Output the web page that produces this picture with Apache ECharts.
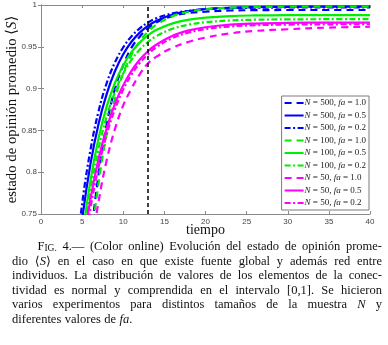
<!DOCTYPE html>
<html>
<head>
<meta charset="utf-8">
<script src="https://cdn.jsdelivr.net/npm/echarts@6/dist/echarts.min.js"></script>
<style>
  html, body { margin: 0; padding: 0; background: #fff; }
  #chart { width: 388px; height: 345px; }
</style>
</head>
<body>
<div id="chart"></div>
<script>
// tiempo (x) and <S> for each run
const tiempo = [4, 5, 6, 7, 8, 9, 10, 11, 12, 13, 14, 16, 18, 20, 23, 26, 30, 35, 40];

const n500fa10 = [0.41, 0.587, 0.712, 0.798, 0.858, 0.900, 0.928, 0.949, 0.962, 0.972, 0.979, 0.987, 0.9905, 0.992, 0.9934, 0.9938, 0.994, 0.994, 0.994];
const n500fa05 = [0.653, 0.743, 0.809, 0.858, 0.894, 0.921, 0.941, 0.956, 0.967, 0.975, 0.981, 0.9886, 0.9928, 0.9952, 0.9968, 0.9975, 0.9978, 0.998, 0.998];
const n500fa02 = [0.673, 0.762, 0.826, 0.873, 0.907, 0.9315, 0.9495, 0.9625, 0.972, 0.979, 0.984, 0.990, 0.993, 0.995, 0.9963, 0.9967, 0.997, 0.997, 0.997];
const n100fa10 = [0.44, 0.594, 0.706, 0.787, 0.846, 0.888, 0.9185, 0.9405, 0.9565, 0.968, 0.9763, 0.9867, 0.9921, 0.9949, 0.9968, 0.9976, 0.9979, 0.998, 0.998];
const n100fa05 = [0.626, 0.720, 0.789, 0.841, 0.879, 0.907, 0.928, 0.9436, 0.955, 0.9637, 0.970, 0.978, 0.9826, 0.985, 0.9868, 0.9875, 0.9878, 0.988, 0.988];
const n100fa02 = [0.613, 0.706, 0.776, 0.828, 0.867, 0.896, 0.918, 0.9343, 0.9466, 0.9557, 0.9626, 0.9716, 0.9766, 0.9794, 0.9815, 0.9824, 0.9828, 0.983, 0.983];
const n50fa10 = [0.48, 0.60, 0.70, 0.765, 0.815, 0.852, 0.880, 0.900, 0.917, 0.930, 0.938, 0.949, 0.956, 0.961, 0.966, 0.969, 0.971, 0.973, 0.974];
const n50fa05 = [0.623, 0.704, 0.767, 0.816, 0.853, 0.882, 0.904, 0.9213, 0.9345, 0.9447, 0.9525, 0.9633, 0.9697, 0.9734, 0.9765, 0.9778, 0.9786, 0.9789, 0.979];
const n50fa02 = [0.605, 0.690, 0.756, 0.8064, 0.8455, 0.8756, 0.8988, 0.9167, 0.9305, 0.9411, 0.9494, 0.9606, 0.9672, 0.9712, 0.9743, 0.9758, 0.9766, 0.9769, 0.977];

const sizes = ['500', '100', '50'];
const faValues = ['1.0', '0.5', '0.2'];
const marcaTiempo = 13;

const caption = [
  'F_IG._ 4.— (Color online) Evolución del estado de opinión prome-',
  'dio ⟨*S*⟩ en el caso en que existe fuente global y además red entre',
  'individuos. La distribución de valores de los elementos de la conec-',
  'tividad es normal y comprendida en el intervalo [0,1]. Se hicieron',
  'varios experimentos para distintos tamaños de la muestra *N* y',
  'diferentes valores de *fa*.'
];

const runs = [n500fa10, n500fa05, n500fa02, n100fa10, n100fa05, n100fa02, n50fa10, n50fa05, n50fa02];
const colors = ['#0000ff', '#00ee00', '#ff00ff'];
const dashes = [[7, 5], 'solid', [6, 2.5, 2, 2.5]];

const series = runs.map((vals, i) => {
  const g = Math.floor(i / 3), f = i % 3;
  return {
    name: `{i|N} = ${sizes[g]}, {i|fa} = ${faValues[f]}`,
    type: 'line',
    data: tiempo.map((t, k) => [t, vals[k]]),
    smooth: 0.4,
    showSymbol: false,
    symbol: 'none',
    clip: true,
    color: colors[g],
    lineStyle: { width: 2.2, type: dashes[f], color: colors[g] },
    z: 3
  };
});

series.push({
  type: 'line',
  data: [],
  markLine: {
    silent: true,
    symbol: 'none',
    label: { show: false },
    lineStyle: { color: '#000', width: 1.5, type: [4, 3] },
    data: [{ xAxis: marcaTiempo }]
  }
});

// justified caption, word by word
const SERIF = '"Liberation Serif", "DejaVu Serif", serif';
const capSize = 12.5;
const ctx = document.createElement('canvas').getContext('2d');
function segFont(kind) {
  if (kind === 'i') return `italic ${capSize}px ${SERIF}`;
  if (kind === 's') return `${capSize - 3}px ${SERIF}`;
  return `${capSize}px ${SERIF}`;
}
function parseWord(w) {
  return w.split(/(\*[^*]+\*|_[^_]+_)/).filter(s => s).map(s => {
    if (s[0] === '*') return { text: s.slice(1, -1), kind: 'i' };
    if (s[0] === '_') return { text: s.slice(1, -1), kind: 's' };
    return { text: s, kind: 'n' };
  });
}
function segWidth(seg) { ctx.font = segFont(seg.kind); return ctx.measureText(seg.text).width; }

const graphic = [];
const lineY = [247, 261.7, 276.2, 290.5, 305, 319.6];
caption.forEach((line, li) => {
  const x0 = li === 0 ? 37.5 : 12;
  const x1 = 382;
  const words = line.split(' ').map(parseWord);
  const widths = words.map(ws => ws.reduce((a, s) => a + segWidth(s), 0));
  const total = widths.reduce((a, b) => a + b, 0);
  const last = li === caption.length - 1;
  const gap = last ? segWidth({ text: ' ', kind: 'n' }) * 1.1 : (x1 - x0 - total) / (words.length - 1);
  let x = x0;
  words.forEach((ws, wi) => {
    let sx = x;
    ws.forEach(s => {
      graphic.push({
        type: 'text',
        x: sx,
        y: s.kind === 's' ? lineY[li] + 1.2 : lineY[li],
        style: { text: s.text, font: segFont(s.kind), fill: '#111', verticalAlign: 'middle', align: 'left' }
      });
      sx += segWidth(s);
    });
    x += widths[wi] + gap;
  });
});

const axisLineStyle = { color: '#8a8a8a', width: 1 };
const labelStyle = { fontFamily: 'Liberation Sans, Arial, sans-serif', fontSize: 8, color: '#444' };

const option = {
  animation: false,
  backgroundColor: '#fff',
  grid: { left: 41, right: 18, top: 5, bottom: 131, containLabel: false, outerBoundsMode: 'none' },
  legend: {
    orient: 'vertical',
    right: 19,
    top: 96,
    padding: [2, 3, 2, 2],
    itemWidth: 19,
    itemHeight: 10,
    itemGap: 2.5,
    backgroundColor: '#fff',
    borderColor: '#7a7a7a',
    borderWidth: 1,
    borderRadius: 0,
    itemStyle: { opacity: 0 },
    textStyle: {
      fontFamily: SERIF, fontSize: 9, lineHeight: 10, color: '#222', padding: [0, 0, 0, -4],
      rich: { i: { fontFamily: SERIF, fontStyle: 'italic', fontSize: 9, lineHeight: 10, color: '#222' } }
    },
    data: series.slice(0, 9).map(s => s.name)
  },
  xAxis: [{
    type: 'value', min: 0, max: 40, interval: 5,
    name: 'tiempo', nameLocation: 'middle', nameGap: 9, nameMoveOverlap: false,
    nameTextStyle: { fontFamily: SERIF, fontSize: 14, color: '#111', verticalAlign: 'top' },
    axisLine: { lineStyle: axisLineStyle },
    axisTick: { inside: true, length: 3, lineStyle: axisLineStyle },
    axisLabel: Object.assign({ margin: 4 }, labelStyle),
    splitLine: { show: false }
  }, {
    type: 'value', min: 0, max: 40, interval: 5, position: 'top',
    axisLine: { lineStyle: axisLineStyle },
    axisTick: { inside: true, length: 3, lineStyle: axisLineStyle },
    axisLabel: { show: false },
    splitLine: { show: false }
  }],
  yAxis: [{
    type: 'value', min: 0.75, max: 1, interval: 0.05,
    name: 'estado de opinión promedio ⟨{i|S}⟩', nameLocation: 'middle', nameGap: 21, nameMoveOverlap: false,
    nameTextStyle: {
      fontFamily: SERIF, fontSize: 14.8, color: '#111',
      rich: { i: { fontFamily: SERIF, fontSize: 14.8, fontStyle: 'italic', color: '#111' } }
    },
    axisLine: { lineStyle: axisLineStyle },
    axisTick: { inside: true, length: 3, lineStyle: axisLineStyle },
    axisLabel: Object.assign({ margin: 4, formatter: v => String(+v.toFixed(2)) }, labelStyle),
    splitLine: { show: false }
  }, {
    type: 'value', min: 0.75, max: 1, interval: 0.05, position: 'right',
    axisLine: { lineStyle: axisLineStyle },
    axisTick: { inside: true, length: 3, lineStyle: axisLineStyle },
    axisLabel: { show: false },
    splitLine: { show: false }
  }],
  series: series,
  graphic: graphic
};

const chart = echarts.init(document.getElementById('chart'), null, { renderer: 'canvas' });
chart.setOption(option);
</script>
</body>
</html>
